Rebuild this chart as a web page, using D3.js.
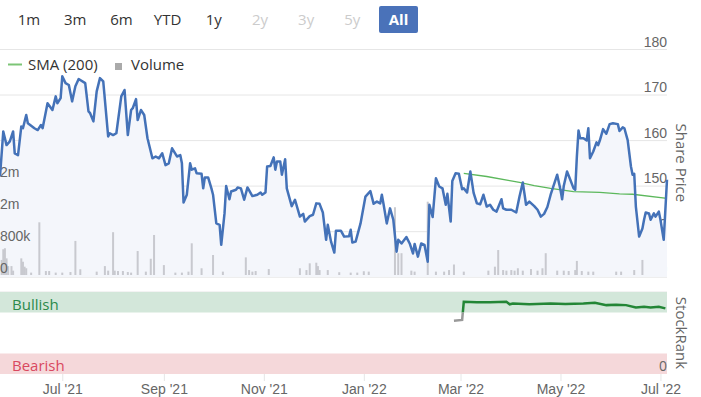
<!DOCTYPE html>
<html>
<head>
<meta charset="utf-8">
<script src="https://cdn.jsdelivr.net/npm/d3@7"></script>
<style>
  body { margin: 0; background: #fff; }
  svg { display: block; font-family: "Open Sans", sans-serif; }
  .tick line { stroke: #e6e6e6; }
  .tick text { fill: #666; font-size: 14px; }
</style>
</head>
<body>
<svg id="chart" width="701" height="397"></svg>
<script>
// range selector buttons
const buttons = ["1m", "3m", "6m", "YTD", "1y", "2y", "3y", "5y", "All"];
const buttonEnabled = [true, true, true, true, true, false, false, false, true];
const activeButton = "All";

const priceTicks = [130, 140, 150, 160, 170, 180];
const volumeTicks = [0, 800000, 1600000, 2400000];
const monthTicks = ["2021-07-01", "2021-09-01", "2021-11-01", "2022-01-01", "2022-03-01", "2022-05-01", "2022-07-01"];
const dateRange = ["2021-05-24", "2022-07-05"];

// share price (close)
const price = [
  ["2021-05-24",152.0],["2021-05-26",161.9],["2021-05-28",158.9],["2021-05-30",159.7],["2021-06-01",161.9],
  ["2021-06-02",157.1],["2021-06-04",156.7],["2021-06-06",163.0],["2021-06-07",162.6],["2021-06-09",165.5],
  ["2021-06-10",163.7],["2021-06-14",162.6],["2021-06-16",162.2],["2021-06-18",163.3],["2021-06-19",162.6],
  ["2021-06-22",168.1],["2021-06-25",166.6],["2021-06-27",169.6],["2021-06-28",168.1],["2021-06-30",169.2],
  ["2021-07-01",174.0],["2021-07-03",172.5],["2021-07-05",172.1],["2021-07-07",168.5],["2021-07-09",171.8],
  ["2021-07-11",173.4],["2021-07-15",172.5],["2021-07-17",166.3],["2021-07-18",165.9],["2021-07-20",164.1],
  ["2021-07-22",170.7],["2021-07-24",173.6],["2021-07-26",172.9],["2021-07-29",160.8],["2021-07-30",161.5],
  ["2021-08-01",161.1],["2021-08-03",161.5],["2021-08-06",169.6],["2021-08-08",171.0],["2021-08-10",161.1],
  ["2021-08-12",166.6],["2021-08-13",167.0],["2021-08-15",169.0],["2021-08-16",164.4],["2021-08-18",166.6],
  ["2021-08-20",165.5],["2021-08-22",160.4],["2021-08-25",156.0],["2021-08-27",156.4],["2021-08-29",156.0],
  ["2021-08-31",157.1],["2021-09-02",154.5],["2021-09-04",154.9],["2021-09-06",158.2],["2021-09-09",156.4],
  ["2021-09-11",156.7],["2021-09-12",154.9],["2021-09-13",146.3],["2021-09-15",148.0],["2021-09-17",154.9],
  ["2021-09-18",153.5],["2021-09-20",153.8],["2021-09-21",152.7],["2021-09-24",152.6],["2021-09-25",149.4],
  ["2021-09-26",151.8],["2021-09-28",151.8],["2021-09-30",149.4],["2021-10-01",148.0],["2021-10-03",141.7],
  ["2021-10-05",141.4],["2021-10-06",137.0],["2021-10-08",143.9],["2021-10-09",149.9],["2021-10-11",147.0],
  ["2021-10-12",148.7],["2021-10-15",149.1],["2021-10-16",149.6],["2021-10-18",149.4],["2021-10-20",146.9],
  ["2021-10-22",149.6],["2021-10-25",147.7],["2021-10-28",148.0],["2021-10-30",148.5],["2021-10-31",148.0],
  ["2021-11-02",148.5],["2021-11-03",154.2],["2021-11-05",154.3],["2021-11-07",156.2],["2021-11-08",153.5],
  ["2021-11-09",155.3],["2021-11-11",155.3],["2021-11-12",152.4],["2021-11-14",155.8],["2021-11-15",149.4],
  ["2021-11-18",145.5],["2021-11-20",146.9],["2021-11-23",143.2],["2021-11-25",143.8],["2021-11-26",142.1],
  ["2021-11-29",143.3],["2021-12-01",143.6],["2021-12-03",146.1],["2021-12-05",146.0],["2021-12-07",144.1],
  ["2021-12-09",138.1],["2021-12-10",141.4],["2021-12-12",137.7],["2021-12-14",135.3],["2021-12-15",140.1],
  ["2021-12-18",140.1],["2021-12-20",138.8],["2021-12-23",138.9],["2021-12-24",140.3],["2021-12-25",137.5],
  ["2021-12-27",137.7],["2021-12-30",141.7],["2022-01-02",147.6],["2022-01-05",148.8],["2022-01-07",146.0],
  ["2022-01-09",146.5],["2022-01-11",146.1],["2022-01-12",148.0],["2022-01-13",146.0],["2022-01-15",141.7],
  ["2022-01-17",145.0],["2022-01-19",142.5],["2022-01-21",135.5],["2022-01-22",138.1],["2022-01-24",137.3],
  ["2022-01-27",138.7],["2022-01-29",137.3],["2022-01-31",135.1],["2022-02-01",137.2],["2022-02-03",134.4],
  ["2022-02-05",137.3],["2022-02-07",137.0],["2022-02-09",133.3],["2022-02-10",145.8],["2022-02-12",143.1],
  ["2022-02-14",151.6],["2022-02-16",149.8],["2022-02-18",149.4],["2022-02-20",145.8],["2022-02-21",148.2],
  ["2022-02-23",142.1],["2022-02-24",151.0],["2022-02-26",152.7],["2022-02-28",152.6],["2022-03-02",149.2],
  ["2022-03-03",149.4],["2022-03-05",148.5],["2022-03-07",153.1],["2022-03-09",148.4],["2022-03-11",146.1],
  ["2022-03-13",145.9],["2022-03-15",148.0],["2022-03-17",145.4],["2022-03-19",145.8],["2022-03-21",144.7],
  ["2022-03-23",144.3],["2022-03-26",147.0],["2022-03-27",145.0],["2022-03-29",144.7],["2022-04-01",144.7],
  ["2022-04-04",144.1],["2022-04-06",147.6],["2022-04-08",150.7],["2022-04-09",148.3],["2022-04-10",145.8],
  ["2022-04-12",146.5],["2022-04-15",145.5],["2022-04-17",144.7],["2022-04-19",143.2],["2022-04-21",143.8],
  ["2022-04-23",145.3],["2022-04-25",148.0],["2022-04-27",150.2],["2022-04-29",152.4],["2022-05-01",149.1],
  ["2022-05-02",147.0],["2022-05-03",149.9],["2022-05-05",153.1],["2022-05-07",151.3],["2022-05-09",149.4],
  ["2022-05-10",149.1],["2022-05-11",156.4],["2022-05-12",162.1],["2022-05-13",160.4],["2022-05-15",160.4],
  ["2022-05-17",159.9],["2022-05-18",162.6],["2022-05-19",156.0],["2022-05-21",157.5],["2022-05-23",159.5],
  ["2022-05-24",158.9],["2022-05-25",159.9],["2022-05-27",162.4],["2022-05-29",161.4],["2022-05-31",163.5],
  ["2022-06-02",163.7],["2022-06-05",163.5],["2022-06-06",162.0],["2022-06-08",162.8],["2022-06-09",162.6],
  ["2022-06-11",160.0],["2022-06-13",154.2],["2022-06-14",152.4],["2022-06-15",152.6],["2022-06-16",145.4],
  ["2022-06-18",138.8],["2022-06-20",140.6],["2022-06-21",142.5],["2022-06-22",144.1],["2022-06-24",143.9],
  ["2022-06-25",142.5],["2022-06-27",143.9],["2022-06-28",143.2],["2022-06-30",144.3],["2022-07-01",142.5],
  ["2022-07-03",138.1],["2022-07-05",151.3]
];

// 200 day simple moving average
const sma = [
  ["2022-03-03",152.7],["2022-03-17",152.0],["2022-03-31",151.1],["2022-04-06",150.7],["2022-04-15",150.0],
  ["2022-04-25",149.4],["2022-05-09",148.7],["2022-05-25",148.5],["2022-06-06",148.2],["2022-06-14",148.1],
  ["2022-07-05",147.2]
];

const volume = [
  ["2021-05-25",380000],["2021-05-26",650000],["2021-05-27",675000],["2021-05-28",420000],["2021-05-29",225000],
  ["2021-05-31",225000],["2021-06-01",110000],["2021-06-06",420000],["2021-06-07",335000],["2021-06-08",210000],
  ["2021-06-09",170000],["2021-06-12",60000],["2021-06-17",1330000],["2021-06-21",100000],["2021-06-23",100000],
  ["2021-06-27",60000],["2021-07-01",60000],["2021-07-06",75000],["2021-07-09",860000],["2021-07-12",145000],
  ["2021-07-22",85000],["2021-07-27",225000],["2021-07-29",110000],["2021-08-01",1080000],["2021-08-02",110000],
  ["2021-08-04",100000],["2021-08-07",100000],["2021-08-10",75000],["2021-08-12",60000],["2021-08-16",605000],
  ["2021-08-21",85000],["2021-08-24",410000],["2021-08-26",1010000],["2021-09-01",250000],["2021-09-08",60000],
  ["2021-09-12",60000],["2021-09-16",85000],["2021-09-18",800000],["2021-09-24",170000],["2021-10-01",505000],
  ["2021-10-07",85000],["2021-10-21",445000],["2021-10-23",125000],["2021-10-25",85000],["2021-10-27",100000],
  ["2021-11-04",150000],["2021-11-23",170000],["2021-11-27",125000],["2021-11-29",295000],["2021-12-03",310000],
  ["2021-12-04",225000],["2021-12-05",125000],["2021-12-10",125000],["2021-12-17",70000],["2021-12-24",60000],
  ["2021-12-28",60000],["2022-01-01",95000],["2022-01-04",85000],["2022-01-20",1710000],["2022-01-22",550000],
  ["2022-01-24",550000],["2022-01-30",110000],["2022-02-01",85000],["2022-02-09",1850000],["2022-02-14",85000],
  ["2022-02-19",85000],["2022-02-22",125000],["2022-02-25",265000],["2022-03-03",85000],["2022-03-18",110000],
  ["2022-03-22",210000],["2022-03-24",630000],["2022-03-27",125000],["2022-03-29",110000],["2022-04-01",125000],
  ["2022-04-03",110000],["2022-04-05",170000],["2022-04-08",110000],["2022-04-13",150000],["2022-04-17",110000],
  ["2022-04-20",170000],["2022-04-22",550000],["2022-04-29",110000],["2022-05-03",110000],["2022-05-06",100000],
  ["2022-05-10",125000],["2022-05-11",355000],["2022-05-14",100000],["2022-05-18",85000],["2022-05-21",85000],
  ["2022-06-04",85000],["2022-06-07",85000],["2022-06-15",125000],["2022-06-20",380000]
];

const stockRank = [
  ["2022-02-25",65],["2022-03-02",66],["2022-03-03",88],["2022-03-11",87.5],["2022-03-19",87.5],
  ["2022-03-29",88],["2022-03-31",85],["2022-04-02",86],["2022-04-12",85],["2022-04-25",86],
  ["2022-05-04",85.5],["2022-05-15",86],["2022-05-22",87],["2022-05-29",84],["2022-06-04",84.5],
  ["2022-06-10",84],["2022-06-16",81],["2022-06-21",82],["2022-06-25",81],["2022-06-30",82],
  ["2022-07-04",80]
];
const rankBands = [
  { label: "Bullish", from: 75, to: 100 },
  { label: "Bearish", from: 0, to: 25 }
];
const rankThreshold = 75;

const parse = d3.timeParse("%Y-%m-%d");
const svg = d3.select("#chart");
const plotW = 667;

const x = d3.scaleTime().domain(dateRange.map(parse)).range([0, plotW]);
const y = d3.scaleLinear().domain([130, 180]).range([276.7, 49]);
const yVol = d3.scaleLinear().domain([0, 800000]).range([275, 243.3]);
const yRank = d3.scaleLinear().domain([0, 100]).range([374, 292]);

// ---- range selector
const bx = d3.scalePoint().domain(buttons).range([29, 398.5]);
svg.append("rect")
  .attr("x", bx(activeButton) - 19.5).attr("y", 6)
  .attr("width", 39).attr("height", 27).attr("rx", 2)
  .attr("fill", "#4a72b9");
svg.selectAll(".btn").data(buttons).join("text")
  .attr("x", d => bx(d)).attr("y", 25)
  .attr("text-anchor", "middle")
  .attr("font-size", 15)
  .attr("font-weight", d => d == activeButton ? "bold" : "normal")
  .attr("fill", (d, i) => d == activeButton ? "#fff" : (buttonEnabled[i] ? "#333" : "#ccc"))
  .text(d => d);

// ---- price grid + right labels
const gPrice = svg.append("g").call(
  d3.axisRight(y).tickValues(priceTicks).tickSize(plotW).tickFormat(d => d)
);
gPrice.select(".domain").remove();
gPrice.selectAll(".tick text")
  .attr("x", plotW).attr("dy", null).attr("y", -3)
  .attr("text-anchor", "end");

// ---- area + volume
const area = d3.area()
  .x(d => x(parse(d[0])))
  .y0(y(130))
  .y1(d => y(d[1]));
svg.append("path").datum(price)
  .attr("d", area)
  .attr("fill", "#f4f6fb");

svg.selectAll(".vol").data(volume).join("rect")
  .attr("x", d => x(parse(d[0])) - 1)
  .attr("y", d => yVol(d[1]))
  .attr("width", 2)
  .attr("height", d => yVol(0) - yVol(d[1]))
  .attr("fill", "#c8c9cf");

const fmtVol = v => v >= 1e6 ? Math.round(v / 1e6) + "m" : v >= 1e3 ? Math.round(v / 1e3) + "k" : v;
const gVol = svg.append("g").call(
  d3.axisRight(yVol).tickValues(volumeTicks).tickSize(0).tickFormat(fmtVol)
);
gVol.select(".domain").remove();
gVol.selectAll(".tick text").attr("x", 0).attr("dy", null).attr("y", -3);

// ---- lines
svg.append("path").datum(sma)
  .attr("d", d3.line().x(d => x(parse(d[0]))).y(d => y(d[1])))
  .attr("fill", "none")
  .attr("stroke", "#5cb85c")
  .attr("stroke-width", 1.3);

svg.append("path").datum(price)
  .attr("d", d3.line().x(d => x(parse(d[0]))).y(d => y(d[1])))
  .attr("fill", "none")
  .attr("stroke", "#4472b8")
  .attr("stroke-width", 2.5)
  .attr("stroke-linejoin", "round");

// ---- legend
svg.append("line").attr("x1", 8).attr("x2", 22).attr("y1", 64.5).attr("y2", 64.5)
  .attr("stroke", "#7cc576").attr("stroke-width", 2);
svg.append("text").attr("x", 28).attr("y", 70).attr("font-size", 15).attr("fill", "#333").text("SMA (200)");
svg.append("rect").attr("x", 115).attr("y", 63).attr("width", 7).attr("height", 7).attr("fill", "#aaa");
svg.append("text").attr("x", 131).attr("y", 70).attr("font-size", 15).attr("fill", "#333").text("Volume");

svg.append("text")
  .attr("transform", `translate(682,${(y(130) + y(180)) / 2}) rotate(90)`)
  .attr("text-anchor", "middle").attr("dominant-baseline", "central")
  .attr("font-size", 15).attr("fill", "#666")
  .text("Share Price");

// ---- stockrank panel
svg.append("line").attr("x1", 0).attr("x2", plotW)
  .attr("y1", yRank(100)).attr("y2", yRank(100))
  .attr("stroke", "#e6e6e6");

svg.selectAll(".band").data(rankBands).join("rect")
  .attr("x", 0).attr("width", plotW)
  .attr("y", d => yRank(d.to))
  .attr("height", d => yRank(d.from) - yRank(d.to))
  .attr("fill", d => d.label == "Bullish" ? "#d3e7da" : "#f5d8da");
svg.selectAll(".bandlabel").data(rankBands).join("text")
  .attr("x", 12).attr("y", d => yRank(d.from) - 3)
  .attr("font-size", 15)
  .attr("fill", d => d.label == "Bullish" ? "#2b8a4b" : "#d9485f")
  .text(d => d.label);

svg.append("text").attr("x", plotW).attr("y", yRank(0) - 3)
  .attr("text-anchor", "end").attr("font-size", 14).attr("fill", "#666").text("0");

const defs = svg.append("defs");
defs.append("clipPath").attr("id", "above")
  .append("rect").attr("x", 0).attr("y", 0).attr("width", plotW).attr("height", yRank(rankThreshold));
defs.append("clipPath").attr("id", "below")
  .append("rect").attr("x", 0).attr("y", yRank(rankThreshold)).attr("width", plotW).attr("height", 397);

const rankLine = d3.line().x(d => x(parse(d[0]))).y(d => yRank(d[1]));
[["above", "#238636"], ["below", "#999"]].forEach(([clip, col]) => {
  svg.append("path").datum(stockRank)
    .attr("d", rankLine)
    .attr("clip-path", `url(#${clip})`)
    .attr("fill", "none")
    .attr("stroke", col)
    .attr("stroke-width", 2.5);
});

svg.append("text")
  .attr("transform", `translate(682,${(yRank(0) + yRank(100)) / 2}) rotate(90)`)
  .attr("text-anchor", "middle").attr("dominant-baseline", "central")
  .attr("font-size", 15).attr("fill", "#666")
  .text("StockRank");

// ---- x axis
const gx = svg.append("g").attr("transform", `translate(0,${yRank(0)})`)
  .call(d3.axisBottom(x).tickValues(monthTicks.map(parse))
    .tickSize(7).tickFormat(d3.timeFormat("%b '%y")));
gx.select(".domain").remove();
gx.selectAll(".tick line").attr("stroke", "#dcdcdc");
</script>
</body>
</html>
